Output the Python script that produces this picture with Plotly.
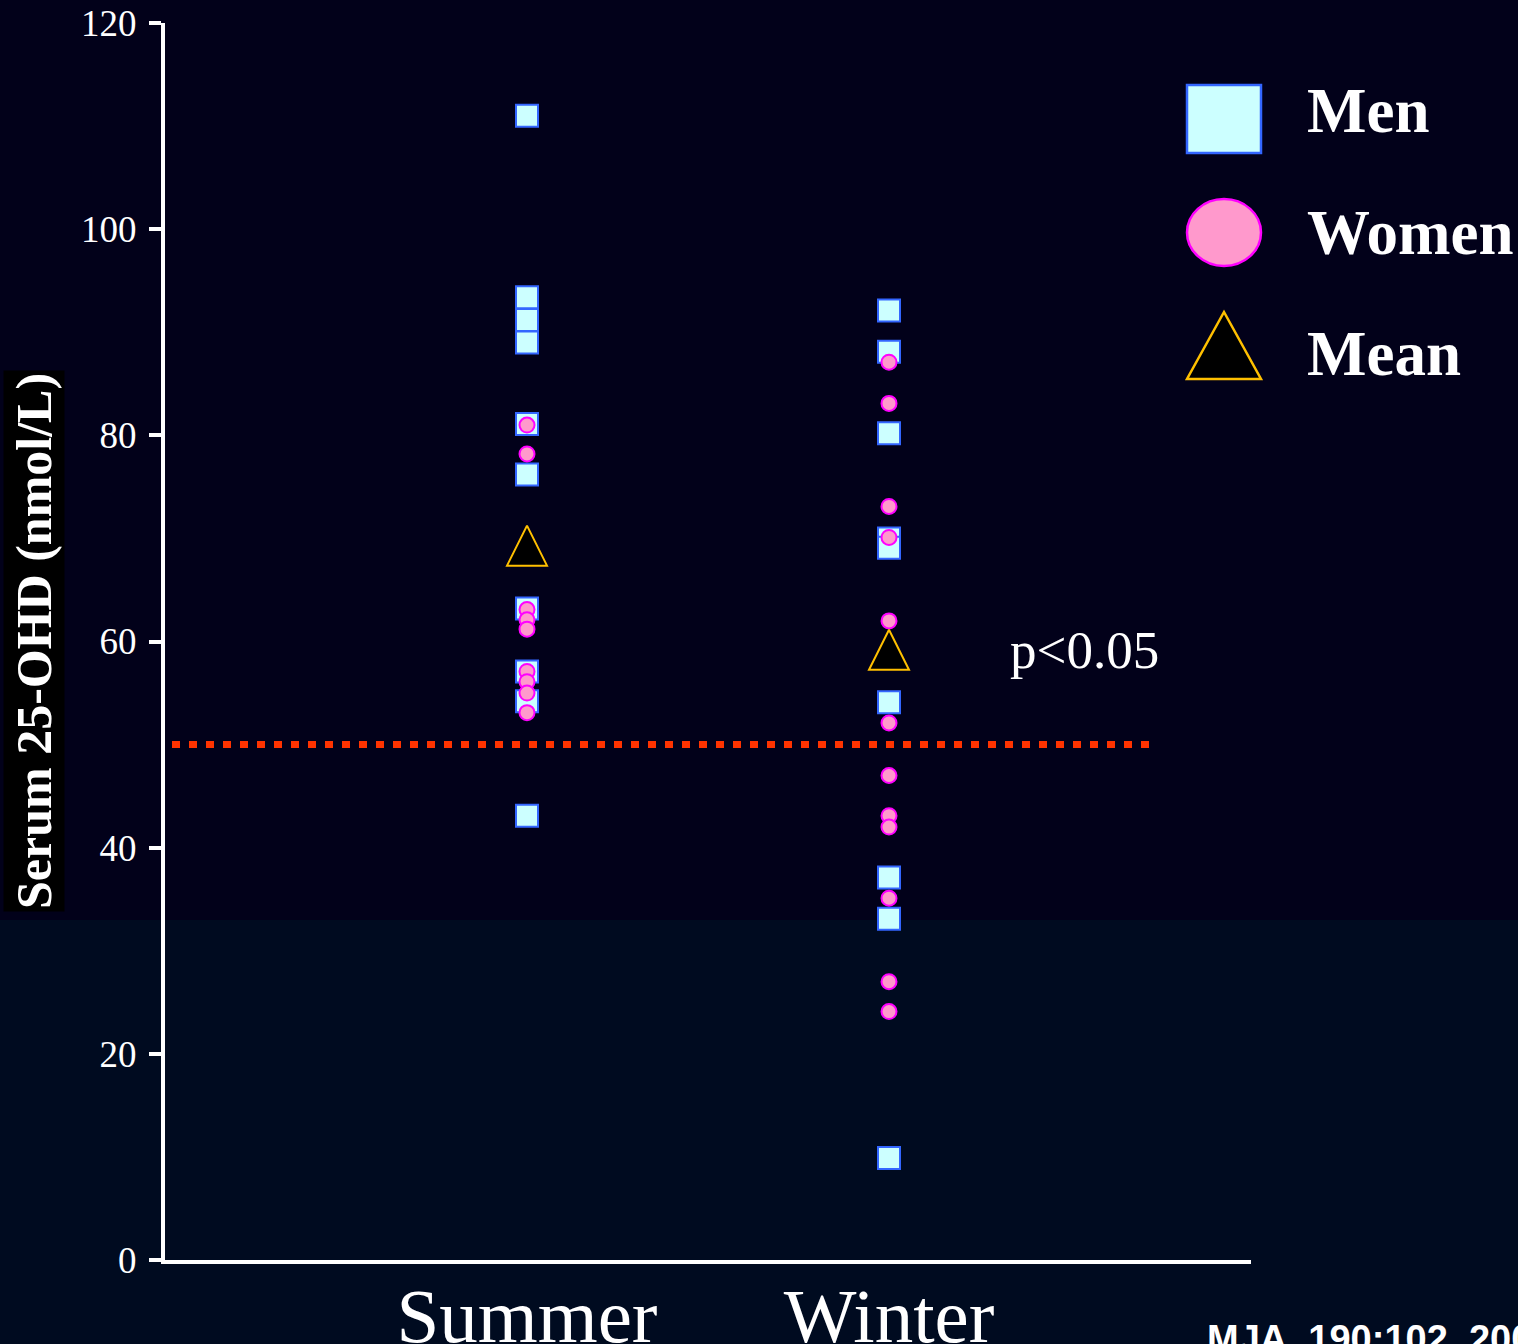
import plotly.graph_objects as go

# Serum 25-OHD by season, men and women, with group means
seasons = ["Summer", "Winter"]
season_pos = [1, 2]

summer_men = [111.0, 93.4, 91.2, 89.0, 81.1, 76.2, 63.2, 57.1, 54.2, 43.1]
summer_women = [81.0, 78.2, 63.1, 62.1, 61.2, 57.1, 56.1, 55.0, 53.1]
winter_men = [92.1, 88.1, 80.2, 70.0, 69.1, 54.1, 37.1, 33.1, 9.9]
winter_women = [87.1, 83.1, 73.1, 70.1, 62.0, 52.1, 47.0, 43.1, 42.0, 35.1, 27.0, 24.1]
mean_values = [69.3, 59.2]

threshold = 50
y_ticks = [0, 20, 40, 60, 80, 100, 120]
legend_labels = ["Men", "Women", "Mean"]

W, H = 1518, 1344
ML, MR, MT, MB = 165, 267, 23, 84
PW, PH = W - ML - MR, H - MT - MB


def px(x):
    return (x - ML) / PW


def py(y):
    return (H - MB - y) / PH


SERIF = "Liberation Serif, Times New Roman, serif"
MEN_FILL, MEN_LINE = "#ccffff", "#3366ff"
WOMEN_FILL, WOMEN_LINE = "#ff99cc", "#ff00ff"
MEAN_LINE = "#ffc000"

fig = go.Figure()

fig.add_trace(go.Scatter(
    x=[season_pos[0]] * len(summer_men) + [season_pos[1]] * len(winter_men),
    y=summer_men + winter_men,
    mode="markers",
    marker=dict(symbol="square", size=22, color=MEN_FILL,
                line=dict(color=MEN_LINE, width=2)),
    hoverinfo="skip", showlegend=False,
))
fig.add_trace(go.Scatter(
    x=[season_pos[0]] * len(summer_women) + [season_pos[1]] * len(winter_women),
    y=summer_women + winter_women,
    mode="markers",
    marker=dict(symbol="circle", size=15, color=WOMEN_FILL,
                line=dict(color=WOMEN_LINE, width=2)),
    hoverinfo="skip", showlegend=False,
))
# upward triangle centred on the mean value
fig.add_trace(go.Scatter(
    x=season_pos, y=mean_values,
    mode="markers",
    marker=dict(symbol="arrow-down", angle=180, standoff=20, size=40,
                color="black", line=dict(color=MEAN_LINE, width=2)),
    hoverinfo="skip", showlegend=False,
))

shapes = [
    # lower background band
    dict(type="rect", xref="paper", yref="paper",
         x0=px(0), x1=px(W), y0=py(H), y1=py(920),
         fillcolor="#000b20", line=dict(width=0), layer="below"),
    # 50 nmol/L reference line
    dict(type="line", xref="paper", yref="y",
         x0=px(172), x1=px(1156), y0=threshold, y1=threshold,
         line=dict(color="#ff3300", width=7, dash="8px,9px")),
    # legend icons
    dict(type="rect", xref="paper", yref="paper",
         x0=px(1187), x1=px(1261), y0=py(153), y1=py(85),
         fillcolor=MEN_FILL, line=dict(color=MEN_LINE, width=2.5)),
    dict(type="circle", xref="paper", yref="paper",
         x0=px(1187), x1=px(1261), y0=py(266), y1=py(199),
         fillcolor=WOMEN_FILL, line=dict(color=WOMEN_LINE, width=2.5)),
    dict(type="path", xref="paper", yref="paper",
         path=(f"M{px(1187)},{py(379)} L{px(1261)},{py(379)} "
               f"L{px(1224)},{py(312)} Z"),
         fillcolor="black", line=dict(color=MEAN_LINE, width=2.5)),
]

annotations = [
    dict(text="<b>Serum 25-OHD (nmol/L)</b>", textangle=-90,
         xref="paper", yref="paper", x=px(34), y=py(641),
         xanchor="center", yanchor="middle", showarrow=False,
         font=dict(family=SERIF, size=50, color="white"),
         bgcolor="black", borderpad=2),
    dict(text="p<0.05", xref="paper", yref="paper", x=px(1008), y=py(650),
         xanchor="left", yanchor="middle", showarrow=False,
         font=dict(family=SERIF, size=53, color="white")),
    dict(text="MJA, 190:102, 2009", xref="paper", yref="paper",
         x=px(1205), y=py(1316), xanchor="left", yanchor="top",
         showarrow=False,
         font=dict(family="Liberation Sans, Arial, sans-serif", size=38,
                   color="white", weight="bold")),
]
legend_y = [111, 233, 354]
for label, yy in zip(legend_labels, legend_y):
    annotations.append(dict(
        text=f"<b>{label}</b>", xref="paper", yref="paper",
        x=px(1305), y=py(yy), xanchor="left", yanchor="middle",
        showarrow=False, font=dict(family=SERIF, size=63, color="white")))

fig.update_layout(
    width=W, height=H,
    margin=dict(l=ML, r=MR, t=MT, b=MB, pad=0, autoexpand=False),
    paper_bgcolor="#02011a",
    plot_bgcolor="rgba(0,0,0,0)",
    shapes=shapes,
    annotations=annotations,
    xaxis=dict(range=[0, 3], tickvals=season_pos, ticktext=seasons,
               showgrid=False, zeroline=False, showline=True,
               linecolor="white", linewidth=4, ticks="",
               tickfont=dict(family=SERIF, size=77, color="white"),
               ticklabelstandoff=-14, automargin=False),
    yaxis=dict(range=[0, 120], tickvals=y_ticks,
               showgrid=False, zeroline=False, showline=True,
               linecolor="white", linewidth=4, ticks="outside",
               ticklen=12, tickwidth=4, tickcolor="white",
               tickfont=dict(family=SERIF, size=37, color="white"),
               ticklabelstandoff=5, automargin=False),
)

fig.write_html("out.html")
